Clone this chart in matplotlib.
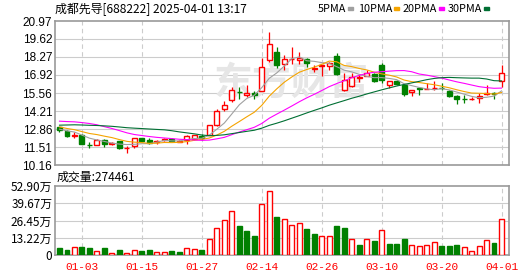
import numpy as np
import pandas as pd
import matplotlib
matplotlib.use("Agg")
import matplotlib.pyplot as plt
from matplotlib.patches import Rectangle

cjk = ['Noto Sans CJK SC', 'DejaVu Sans']

# trading days shown (12-30 .. 04-01)
dates = ["12-30", "12-31",
         "01-02", "01-03", "01-06", "01-07", "01-08", "01-09", "01-10", "01-13", "01-14",
         "01-15", "01-16", "01-17", "01-20", "01-21", "01-22", "01-23", "01-24", "01-27",
         "02-05", "02-06", "02-07", "02-10", "02-11", "02-12", "02-13", "02-14", "02-17",
         "02-18", "02-19", "02-20", "02-21", "02-24", "02-25", "02-26", "02-27", "02-28",
         "03-03", "03-04", "03-05", "03-06", "03-07", "03-10", "03-11", "03-12", "03-13",
         "03-14", "03-17", "03-18", "03-19", "03-20", "03-21", "03-24", "03-25", "03-26",
         "03-27", "03-28", "03-31", "04-01"]
tick_dates = ["01-03", "01-15", "01-27", "02-14", "02-26", "03-10", "03-20", "04-01"]

opens = [13.00, 12.70, 12.32, 12.40, 11.68, 11.66, 12.07, 11.74, 11.94, 11.42,
         11.56, 12.17, 12.07, 11.90, 12.02, 12.12, 11.92, 12.00, 12.08, 12.37,
         12.42, 13.17, 14.34, 15.04, 15.66, 15.40, 15.55, 15.75, 18.07, 18.67,
         17.71, 18.08, 18.07, 18.15, 17.37, 17.58, 17.62, 18.35, 15.82, 16.10,
         16.69, 16.86, 17.00, 17.70, 16.15, 16.43, 16.16, 15.65, 15.92, 15.86,
         15.91, 15.95, 15.75, 15.35, 15.12, 15.08, 15.17, 15.50, 15.54, 16.50]
highs = [13.03, 12.75, 12.60, 12.45, 11.90, 12.12, 12.10, 11.88, 11.96, 11.56,
         12.17, 12.20, 12.22, 12.02, 12.20, 12.15, 12.05, 12.40, 12.42, 12.50,
         13.20, 14.35, 14.99, 16.05, 16.00, 16.20, 15.70, 18.17, 20.14, 19.03,
         18.45, 19.03, 18.62, 18.20, 17.69, 17.67, 17.87, 18.58, 17.06, 17.06,
         17.01, 17.31, 17.05, 17.85, 16.48, 16.55, 16.18, 15.82, 16.05, 16.30,
         16.48, 16.30, 15.78, 15.40, 15.40, 15.30, 15.55, 16.16, 15.67, 17.69]
lows = [12.63, 12.28, 12.19, 11.70, 11.46, 11.63, 11.50, 11.63, 11.38, 11.05,
        11.42, 11.90, 11.70, 11.70, 11.95, 11.92, 11.88, 11.76, 12.00, 12.00,
        12.40, 13.10, 14.23, 14.89, 15.14, 15.30, 15.10, 15.70, 17.87, 17.47,
        17.26, 17.77, 17.75, 17.52, 17.11, 16.86, 17.28, 16.88, 15.72, 16.05,
        16.41, 16.81, 16.41, 16.30, 15.93, 16.20, 15.37, 15.37, 15.45, 15.83,
        15.82, 15.80, 15.30, 14.74, 14.84, 15.05, 14.84, 15.40, 15.10, 16.05]
closes = [12.77, 12.30, 12.42, 11.75, 11.64, 12.07, 11.76, 11.78, 11.40, 11.46,
          12.17, 11.98, 11.82, 11.94, 12.12, 11.98, 11.96, 12.33, 12.38, 12.17,
          13.17, 14.19, 14.64, 15.78, 15.62, 15.55, 15.38, 17.52, 19.28, 17.63,
          18.12, 18.14, 18.20, 17.84, 17.41, 17.64, 17.82, 17.00, 16.53, 16.76,
          16.73, 17.06, 16.50, 16.56, 16.45, 16.27, 15.52, 15.80, 15.88, 15.90,
          15.95, 15.92, 15.35, 15.08, 15.10, 15.12, 15.37, 15.56, 15.50, 17.06]
# closes before the window, estimated from where the MA lines start
pre_closes = [11.9, 12.0, 12.2, 12.3, 12.5, 12.6, 12.8, 12.9, 13.1, 13.2,
              12.9, 12.8, 12.9, 13.0, 14.0, 14.6, 14.5, 14.6, 14.8, 14.7,
              13.5, 13.3, 13.2, 13.05, 12.9, 12.95, 12.85, 12.9, 12.78]
# volume, 万
volume = [5.2, 3.6, 6.5, 6.0, 5.2, 3.4, 5.2, 1.8, 3.6, 1.8,
          4.0, 2.8, 3.6, 2.1, 2.6, 2.8, 2.1, 5.7, 4.9, 3.6,
          12.6, 20.4, 26.6, 33.6, 22.2, 18.3, 14.5, 39.0, 49.1, 29.2,
          27.4, 23.0, 24.5, 19.9, 16.0, 14.2, 14.2, 22.2, 20.7, 11.9,
          7.5, 11.9, 10.8, 18.8, 8.3, 8.3, 12.1, 8.0, 7.2, 8.0,
          10.3, 6.7, 6.7, 7.5, 6.5, 3.4, 7.2, 11.6, 9.0, 27.4461]

price_ticks = [10.16, 11.51, 12.86, 14.21, 15.56, 16.92, 18.27, 19.62, 20.97]
vol_ticks = [0, 13.22, 26.45, 39.67, 52.90]
ma_periods = [5, 10, 20, 30]

UP = '#ff0000'
DOWN = '#008000'
ma_colors = ['#a0a0a0', '#f5a400', '#ff00ff', '#006f33']
grid_c = '#cccccc'
frame_c = '#999999'

o = np.array(opens); h = np.array(highs); l = np.array(lows); c = np.array(closes)
v = np.array(volume)
x = np.arange(len(dates))
up = c >= o
prev = np.r_[o[0], c[:-1]]
vol_up = c >= prev

allc = pd.Series(pre_closes + closes)
n_pre = len(pre_closes)

fig = plt.figure(figsize=(5.30, 2.76), dpi=100)
ax = fig.add_axes([55/530, 1-165/276, 454/530, 144/276])
axv = fig.add_axes([55/530, 1-255/276, 454/530, 69/276])

tick_idx = [dates.index(d) for d in tick_dates]

for a in (ax, axv):
    a.set_xlim(-0.6, 60.0)
    for s in a.spines.values():
        s.set_color(frame_c)
        s.set_linewidth(1.2)
    a.tick_params(length=0, labelsize=8.5, pad=2)
    for t in tick_idx:
        a.axvline(t, color=grid_c, lw=0.8, ls=(0, (4, 3)), zorder=0)

# price panel
ax.set_ylim(price_ticks[0], price_ticks[-1])
ax.set_yticks(price_ticks)
ax.set_yticklabels([f"{p:.2f}" for p in price_ticks], family='Liberation Sans')
ax.set_xticks([])
for p in price_ticks[1:-1]:
    ax.axhline(p, color=grid_c, lw=0.8, zorder=0)

ax.text(0.52, 0.56, "东方财富", transform=ax.transAxes, family=cjk, fontsize=28,
        fontweight='bold', color='#e6e6e6', ha='center', va='center', zorder=0)

w = 0.66
for i in x:
    col = UP if up[i] else DOWN
    ax.vlines(i, l[i], h[i], color=col, lw=0.9, zorder=2)
    body = abs(c[i] - o[i])
    if body < 0.03:
        ax.hlines((o[i] + c[i]) / 2, i - w/2, i + w/2, color=col, lw=1.0, zorder=3)
    elif up[i]:
        ax.add_patch(Rectangle((i - w/2, o[i]), w, body, facecolor='white',
                               edgecolor=col, lw=1.0, zorder=3))
    else:
        ax.add_patch(Rectangle((i - w/2, c[i]), w, body, facecolor=col,
                               edgecolor=col, lw=1.0, zorder=3))

for n, mc in zip(ma_periods, ma_colors):
    ma = allc.rolling(n).mean().values[n_pre:]
    ax.plot(x, ma, color=mc, lw=0.8, zorder=4)

# volume panel
axv.set_ylim(vol_ticks[0], vol_ticks[-1])
axv.set_yticks(vol_ticks)
axv.set_yticklabels(["0"] + [f"{t:.2f}万" for t in vol_ticks[1:]], family=cjk)
for t in vol_ticks[1:-1]:
    axv.axhline(t, color=grid_c, lw=0.8, zorder=0)
for i in x:
    col = UP if vol_up[i] else DOWN
    face = 'white' if vol_up[i] else col
    axv.bar(i, v[i], width=w, facecolor=face, edgecolor=col, lw=1.0, zorder=3)
axv.set_xticks(tick_idx)
axv.set_xticklabels(tick_dates, color=UP, family='Liberation Mono', fontsize=8)
axv.tick_params(axis='x', pad=5)

# header texts
fig.text(55/530, 1-9/276, "成都先导[688222] 2025-04-01 13:17", family=cjk,
         fontsize=8.6, va='center', ha='left')
sq_x = [348, 394, 439, 484]
for n, mc, sx in zip(ma_periods, ma_colors, sq_x):
    fig.text((sx - 2)/530, 1-9/276, f"{n}PMA", family=cjk, fontsize=7.8,
             va='center', ha='right')
    fig.patches.append(Rectangle((sx/530, 1-10/276), 5/530, 3/276, color=mc,
                                 transform=fig.transFigure, figure=fig))
fig.text(57/530, 1-177/276, f"成交量:{int(round(v[-1]*10000))}", family=cjk,
         fontsize=8.6, va='center', ha='left')

fig.savefig("out.png", dpi=100)
